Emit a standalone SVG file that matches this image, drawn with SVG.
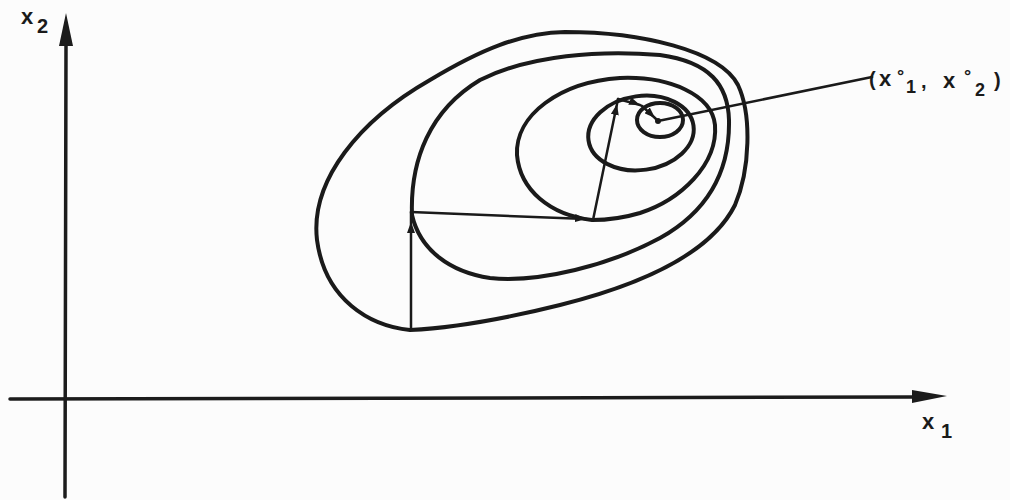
<svg xmlns="http://www.w3.org/2000/svg" width="1010" height="500" viewBox="0 0 1010 500">
<style>
.bg{fill:#fcfcfc}
.axis{fill:none;stroke:#1c1c1c;stroke-width:3.5;stroke-linecap:round}
.head{fill:#1c1c1c}
.contour{fill:none;stroke:#1a1a1a;stroke-width:4;stroke-linejoin:round}
.step{fill:none;stroke:#1a1a1a;stroke-width:2.5;stroke-linecap:round;stroke-linejoin:round;marker-mid:url(#ah)}
.leader{fill:none;stroke:#1a1a1a;stroke-width:2.5;stroke-linecap:round}
.lbl{font-family:"Liberation Sans",Arial,sans-serif;font-weight:bold;fill:#1a1a1a}
</style>
<defs>
<marker id="ah" markerUnits="userSpaceOnUse" markerWidth="12" markerHeight="8" refX="11" refY="4" orient="auto">
<path d="M0,0 L11,4 L0,8 Z" fill="#1a1a1a"/>
</marker>
</defs>
<rect class="bg" x="0" y="0" width="1010" height="500"/>
<g id="axes">
<line class="axis" x1="10" y1="399" x2="915" y2="397"/>
<polygon class="head" points="947,396 912,390 912,403"/>
<line class="axis" x1="65" y1="497" x2="66" y2="44"/>
<polygon class="head" points="66,13 59,46 73,46"/>
</g>
<g id="contours">
<path id="c1" class="contour" d="M410,330 C370,326 325,300 317,240 C310,180 360,120 430,80 C480,50 520,33 565,32 C640,32 720,50 738,85 C752,115 750,170 735,205 C710,255 640,285 560,305 C500,320 450,328 410,330 Z"/>
<path id="c2" class="contour" d="M412,215 C410,160 430,110 480,80 C530,55 600,50 660,55 C710,62 728,85 729,120 C730,170 710,210 660,238 C610,265 540,283 490,278 C450,272 420,250 412,215 Z"/>
<path id="c3" class="contour" d="M592,220 C550,215 520,190 517,155 C515,115 560,82 620,78 C670,76 712,95 715,125 C718,165 680,200 640,213 C620,219 605,220 592,220 Z"/>
<ellipse id="c4" class="contour" cx="641" cy="133" rx="53" ry="37" transform="rotate(-8 641 133)"/>
<ellipse id="c5" class="contour" cx="660" cy="120" rx="23" ry="17"/>
</g>
<g id="connectors">
<path class="step" d="M411,328 L411,222 L411,212"/>
<path class="step" d="M411,212 L586,219 L593,220"/>
<path class="step" d="M593,220 L617,104 L618,99"/>
<path class="step" d="M618,99 L640,105 L642,106"/>
<path class="step" d="M642,106 L655,118 L658,121"/>
<circle cx="658" cy="121" r="3" fill="#1a1a1a"/>
<line class="leader" x1="658" y1="121" x2="872" y2="77"/>
</g>
<g id="label-x2">
<text class="lbl" font-size="22" x="21" y="24">x</text>
<text class="lbl" font-size="20" x="37" y="33">2</text>
</g>
<g id="label-x1">
<text class="lbl" font-size="22" x="922" y="429">x</text>
<text class="lbl" font-size="20" x="941" y="438">1</text>
</g>
<g id="label-opt">
<text class="lbl" font-size="20" x="869" y="86">(</text>
<text class="lbl" font-size="22" x="879" y="86">x</text>
<text class="lbl" font-size="18" x="897" y="82">°</text>
<text class="lbl" font-size="18" x="906" y="93">1</text>
<text class="lbl" font-size="20" x="921" y="88">,</text>
<text class="lbl" font-size="22" x="943" y="88">x</text>
<text class="lbl" font-size="18" x="964" y="82">°</text>
<text class="lbl" font-size="18" x="975" y="96">2</text>
<text class="lbl" font-size="20" x="994" y="87">)</text>
</g>
</svg>
